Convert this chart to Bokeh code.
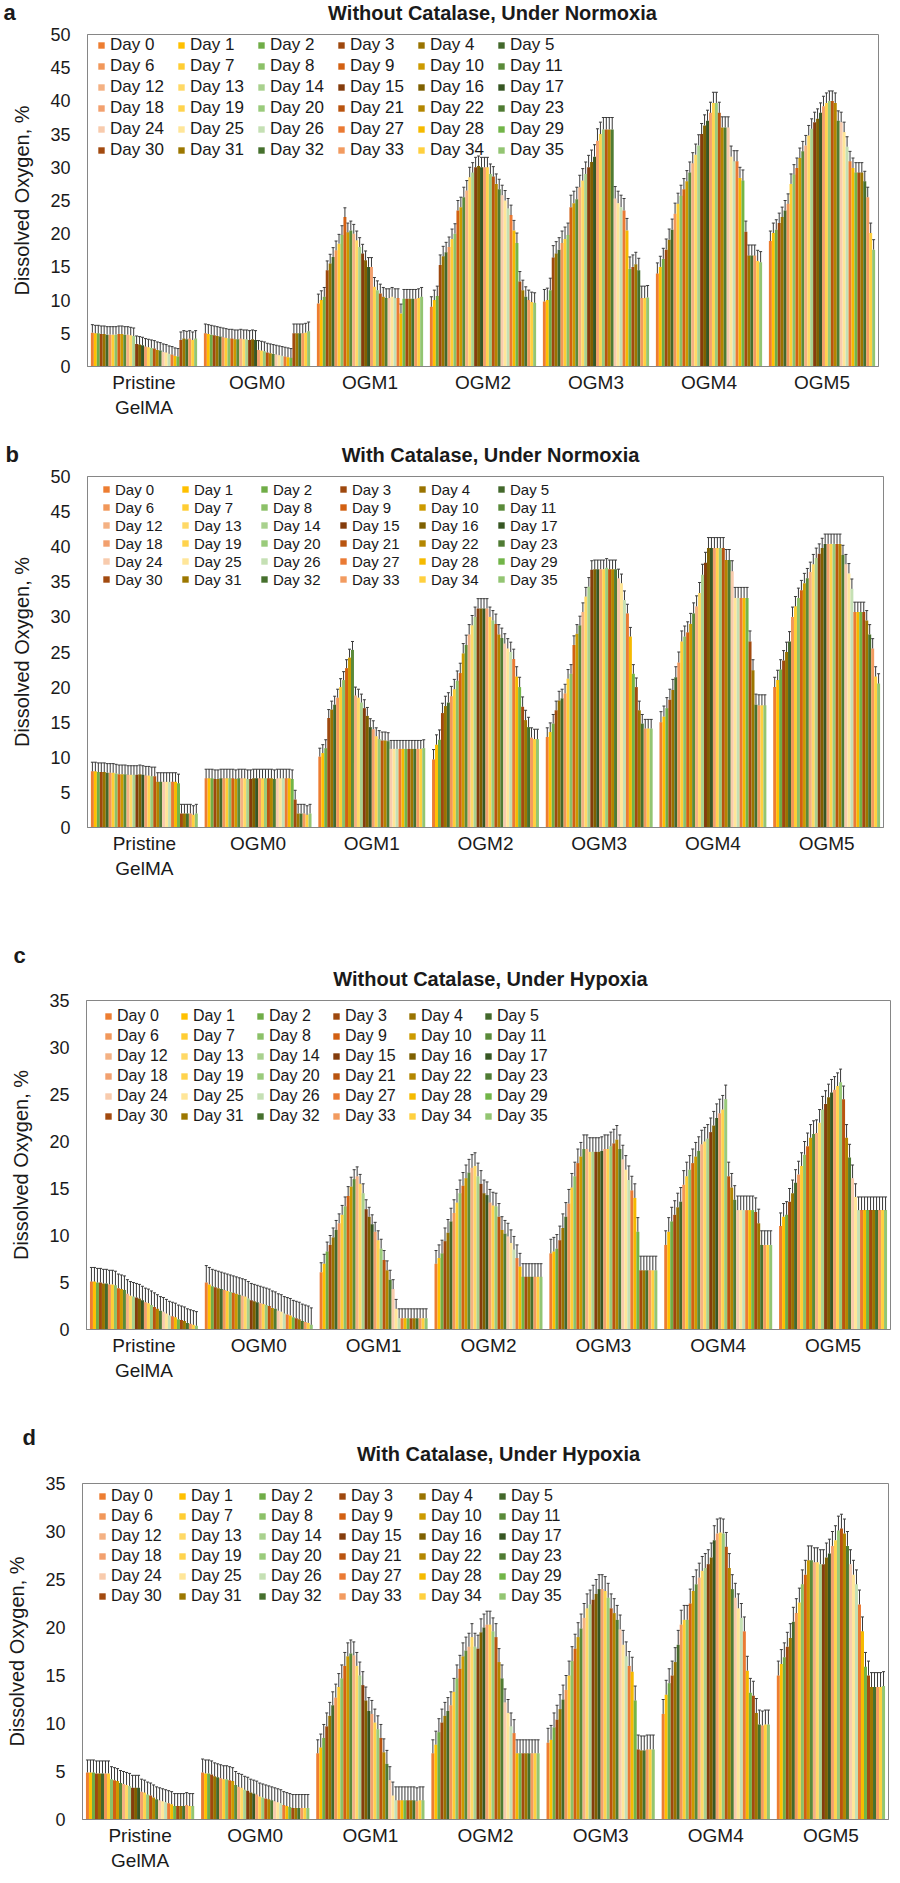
from bokeh.plotting import figure
from bokeh.models import (Range1d, FixedTicker, Legend, LegendItem,
                          Whisker, TeeHead, ColumnDataSource)
from bokeh.core.properties import value
from bokeh.layouts import column
from bokeh.embed import file_html
from bokeh.resources import INLINE

# ---------------- data ----------------
GROUPS = ["Pristine\nGelMA", "OGM0", "OGM1", "OGM2", "OGM3", "OGM4", "OGM5"]
DAYS = ["Day 0", "Day 1", "Day 2", "Day 3", "Day 4", "Day 5",
        "Day 6", "Day 7", "Day 8", "Day 9", "Day 10", "Day 11",
        "Day 12", "Day 13", "Day 14", "Day 15", "Day 16", "Day 17",
        "Day 18", "Day 19", "Day 20", "Day 21", "Day 22", "Day 23",
        "Day 24", "Day 25", "Day 26", "Day 27", "Day 28", "Day 29",
        "Day 30", "Day 31", "Day 32", "Day 33", "Day 34", "Day 35"]
PANEL_LETTERS = ["a", "b", "c", "d"]
PANEL_TITLES = ["Without Catalase, Under Normoxia", "With Catalase, Under Normoxia",
                "Without Catalase, Under Hypoxia", "With Catalase, Under Hypoxia"]
Y_LABEL = "Dissolved Oxygen, %"
Y_MAX = [50, 50, 35, 35]
Y_TICKS = [[0, 5, 10, 15, 20, 25, 30, 35, 40, 45, 50],
           [0, 5, 10, 15, 20, 25, 30, 35, 40, 45, 50],
           [0, 5, 10, 15, 20, 25, 30, 35],
           [0, 5, 10, 15, 20, 25, 30, 35]]

# (a) Without catalase, normoxia
A_PRISTINE = [5.1, 5.0, 5.0, 4.9, 4.9, 4.8, 4.8, 4.8, 4.8, 4.9, 4.9, 4.8, 4.8, 4.7, 4.6,
              3.4, 3.3, 3.2, 3.0, 2.9, 2.8, 2.7, 2.5, 2.4, 2.2, 2.1, 1.9, 1.8, 1.6, 1.5,
              4.0, 4.2, 4.1, 4.2, 4.0, 4.2]
A_OGM0 = [5.0, 4.9, 4.8, 4.7, 4.6, 4.5, 4.4, 4.3, 4.2, 4.2, 4.1, 4.1, 4.2, 4.1, 4.1, 4.0, 4.1, 4.0,
          2.5, 2.4, 2.3, 2.1, 2.0, 1.9, 1.8, 1.7, 1.6, 1.5, 1.4, 1.3,
          5.0, 5.0, 5.0, 5.0, 5.1, 5.3]
A_OGM1 = [9.5, 10.0, 10.5, 14.5, 15.5, 16.5, 17.5, 18.5, 19.8, 22.5, 20.2, 20.5, 20.0, 19.0, 18.0,
          17.0, 16.0, 15.0, 15.0, 12.0, 11.5, 11.0, 10.5, 10.3, 10.3, 10.5, 10.3, 10.3, 8.0, 10.2,
          10.2, 10.2, 10.2, 10.2, 10.3, 10.5]
A_OGM2 = [9.0, 10.0, 10.6, 15.3, 16.6, 17.2, 18.0, 19.2, 20.0, 23.5, 24.0, 25.5, 26.5, 28.5, 29.2,
          30.0, 30.2, 30.0, 30.0, 30.0, 29.0, 28.6, 27.5, 26.7, 25.8, 25.0, 23.8, 22.8, 20.5, 18.6,
          12.8, 11.5, 10.5, 10.0, 9.7, 9.6]
A_OGM3 = [9.8, 10.0, 11.5, 16.4, 17.0, 17.6, 18.6, 19.2, 19.8, 24.0, 24.6, 25.2, 27.0, 28.0, 29.0,
          30.0, 30.8, 31.6, 34.0, 35.0, 35.7, 35.7, 35.7, 35.7, 25.3, 24.6, 24.0, 23.5, 20.5, 14.7,
          15.0, 15.4, 14.5, 10.3, 10.3, 10.4]
A_OGM4 = [14.0, 15.0, 16.2, 17.6, 19.1, 20.6, 23.0, 24.5, 25.7, 26.7, 27.9, 29.2, 30.6, 31.9, 33.3,
          35.0, 36.3, 37.0, 38.2, 39.7, 39.7, 38.2, 36.0, 36.0, 36.0, 31.6, 30.9, 30.9, 28.4, 28.0,
          20.3, 16.7, 16.7, 16.7, 15.9, 15.7]
A_OGM5 = [18.9, 20.1, 20.6, 21.6, 22.5, 23.5, 24.5, 27.5, 28.9, 29.9, 31.4, 32.4, 33.3, 34.8, 35.8,
          36.8, 37.3, 38.2, 39.2, 39.7, 40.0, 40.0, 39.7, 37.0, 36.8, 35.3, 33.1, 30.9, 29.9, 29.2,
          29.2, 29.2, 27.9, 25.5, 20.1, 17.6]
A_ERR = [1.2, 1.4, 1.4, 1.5, 1.8, 1.6, 1.5]

# (b) With catalase, normoxia
B_PRISTINE = [8.0, 8.0, 7.9, 7.9, 7.9, 7.8, 7.8, 7.8, 7.7, 7.6, 7.6, 7.6, 7.5, 7.5, 7.5,
              7.5, 7.6, 7.5, 7.4, 7.4, 7.3, 7.3, 6.5, 6.5, 6.5, 6.5, 6.5, 6.5, 6.5, 6.3,
              2.0, 2.0, 2.0, 2.0, 1.8, 2.0]
B_OGM0 = [7.0, 7.0, 7.0, 6.9, 6.9, 7.0, 7.0, 7.0, 7.0, 7.0, 6.9, 7.0, 7.0, 7.0, 6.9,
          6.9, 7.0, 7.0, 7.0, 7.0, 7.0, 7.0, 7.0, 6.9, 7.0, 7.0, 7.0, 7.0, 7.0, 6.9,
          4.0, 2.0, 2.0, 2.0, 1.8, 2.0]
B_OGM1 = [10.1, 10.6, 11.3, 15.6, 16.8, 17.5, 18.5, 20.0, 21.0, 22.7, 24.2, 25.3,
          18.8, 18.5, 17.8, 17.0, 15.9, 14.3, 14.0, 13.0, 12.6, 12.4, 12.4, 12.3,
          11.2, 11.2, 11.2, 11.2, 11.2, 11.2, 11.2, 11.2, 11.2, 11.2, 11.2, 11.3]
B_OGM2 = [9.7, 11.8, 12.5, 16.3, 17.3, 17.8, 18.7, 19.7, 20.9, 22.0, 24.8, 26.0, 27.5, 28.8, 30.0,
          31.2, 31.2, 31.2, 31.2, 30.0, 29.5, 29.0, 27.5, 27.0, 26.2, 25.5, 25.0, 24.0, 21.5, 20.0,
          17.2, 15.3, 14.3, 12.8, 12.6, 12.6]
B_OGM3 = [12.9, 13.6, 14.8, 16.7, 18.1, 18.4, 19.1, 21.2, 21.9, 26.0, 27.6, 28.8, 30.7, 32.9, 34.3,
          36.7, 36.8, 36.8, 36.8, 36.8, 37.0, 36.8, 36.8, 36.8, 35.5, 34.8, 32.4, 30.5, 27.2, 21.9,
          20.0, 16.7, 14.8, 14.1, 14.1, 14.1]
B_OGM4 = [15.0, 15.8, 17.0, 18.2, 19.6, 21.4, 23.5, 26.5, 27.2, 27.8, 29.0, 30.5, 31.5, 33.4, 36.0,
          37.7, 39.8, 39.8, 39.8, 39.8, 39.8, 39.8, 38.1, 38.1, 36.5, 32.7, 32.7, 32.7, 32.7, 32.7,
          26.5, 22.4, 17.5, 17.4, 17.4, 17.4]
B_OGM5 = [20.0, 21.0, 22.5, 23.8, 25.0, 26.5, 30.0, 31.5, 32.7, 33.8, 34.8, 35.5, 36.4, 37.5, 38.4,
          39.0, 39.8, 40.4, 40.4, 40.4, 40.4, 40.4, 40.4, 38.8, 37.5, 36.2, 34.0, 30.7, 30.7, 30.7,
          30.7, 29.5, 27.5, 25.5, 21.5, 20.5]
B_ERR = [1.3, 1.3, 1.2, 1.4, 1.3, 1.5, 1.4]

# (c) Without catalase, hypoxia
C_PRISTINE = [5.1, 5.1, 5.0, 5.0, 4.9, 4.9, 4.8, 4.8, 4.7, 4.4, 4.3, 4.2, 3.8, 3.6, 3.5,
              3.4, 3.3, 3.1, 2.9, 2.8, 2.6, 2.4, 2.2, 2.0, 1.9, 1.7, 1.5, 1.4, 1.3, 1.1,
              1.0, 0.9, 0.7, 0.6, 0.5, 0.4]
C_OGM0 = [5.0, 4.8, 4.6, 4.5, 4.4, 4.3, 4.2, 4.1, 4.0, 3.9, 3.8, 3.7, 3.6, 3.5, 3.3,
          3.1, 3.0, 2.9, 2.8, 2.7, 2.6, 2.5, 2.3, 2.2, 2.0, 1.9, 1.7, 1.6, 1.5, 1.3,
          1.2, 1.1, 0.9, 0.8, 0.7, 0.5]
C_OGM1 = [6.1, 7.0, 8.3, 9.0, 9.8, 10.6, 11.3, 12.2, 13.1, 14.2, 15.2, 16.0, 16.3, 15.5, 14.5,
          12.8, 12.0, 11.2, 10.4, 9.5, 8.6, 7.4, 6.3, 5.3, 4.3, 2.2, 1.2, 1.2, 1.2, 1.2,
          1.2, 1.2, 1.2, 1.2, 1.2, 1.2]
C_OGM2 = [7.0, 7.6, 8.1, 9.4, 10.3, 11.5, 12.4, 13.5, 14.5, 15.3, 16.1, 16.7, 17.2, 17.4, 16.3,
          15.5, 14.5, 14.3, 13.5, 13.2, 13.1, 12.0, 10.6, 10.2, 9.9, 9.2, 8.5, 7.6, 6.7, 5.6,
          5.6, 5.6, 5.6, 5.6, 5.6, 5.6]
C_OGM3 = [8.1, 8.3, 8.6, 9.5, 10.8, 12.0, 13.4, 15.1, 16.3, 17.7, 18.4, 19.2, 19.2, 18.9, 18.9,
          18.9, 18.9, 19.0, 19.2, 19.2, 19.5, 19.8, 20.2, 19.2, 18.1, 17.0, 15.9, 14.8, 14.0, 10.4,
          6.3, 6.3, 6.3, 6.3, 6.3, 6.3]
C_OGM4 = [9.0, 10.4, 11.5, 12.2, 13.0, 13.6, 15.4, 16.3, 17.0, 17.7, 18.4, 19.0, 19.7, 20.0, 20.3,
          21.0, 21.7, 22.5, 23.0, 23.4, 24.5, 16.3, 15.1, 13.8, 12.7, 12.7, 12.7, 12.7, 12.7, 12.7,
          12.5, 11.3, 9.0, 9.0, 9.0, 9.0]
C_OGM5 = [11.0, 12.0, 12.2, 13.6, 14.5, 15.6, 16.5, 17.4, 18.6, 19.5, 20.4, 20.8, 20.9, 22.0, 23.4,
          24.0, 24.7, 25.2, 25.5, 25.9, 26.3, 24.5, 20.4, 18.3, 16.1, 14.1, 12.7, 12.7, 12.7, 12.7,
          12.7, 12.7, 12.7, 12.7, 12.7, 12.7]
C_ERR = [1.5, 1.8, 1.0, 1.4, 1.5, 1.5, 1.4]

# (d) With catalase, hypoxia
D_PRISTINE = [4.9, 4.9, 4.9, 4.8, 4.8, 4.8, 4.8, 4.8, 4.2, 4.1, 4.0, 3.8, 3.7, 3.6, 3.5,
              3.3, 3.3, 3.3, 2.9, 2.8, 2.6, 2.5, 2.3, 2.1, 2.0, 1.9, 1.8, 1.7, 1.6, 1.4,
              1.4, 1.4, 1.4, 1.5, 1.4, 1.4]
D_OGM0 = [4.9, 4.8, 4.8, 4.7, 4.5, 4.4, 4.3, 4.2, 4.2, 4.1, 4.0, 3.6, 3.4, 3.3, 3.1,
          3.0, 2.8, 2.7, 2.6, 2.4, 2.3, 2.2, 2.1, 2.0, 1.9, 1.8, 1.7, 1.5, 1.4, 1.3,
          1.2, 1.2, 1.2, 1.2, 1.2, 1.2]
D_OGM1 = [6.9, 7.5, 8.5, 9.7, 10.8, 11.9, 12.7, 13.8, 14.7, 16.0, 17.0, 17.3, 17.1, 16.0, 15.0,
          14.0, 12.4, 11.3, 11.0, 10.1, 9.4, 8.5, 7.0, 5.8, 4.1, 2.5, 2.0, 2.0, 2.0, 2.0,
          2.0, 2.0, 2.0, 1.9, 2.0, 2.0]
D_OGM2 = [6.9, 7.8, 9.1, 10.1, 10.8, 11.3, 11.9, 13.3, 14.7, 15.7, 17.0, 17.6, 18.0, 19.0, 18.0,
          17.8, 19.5, 20.0, 20.3, 20.3, 19.6, 19.0, 16.4, 14.7, 12.2, 11.1, 9.7, 9.0, 6.9, 6.9,
          6.9, 6.9, 6.9, 6.9, 6.9, 6.9]
D_OGM3 = [8.0, 8.3, 9.6, 10.4, 11.5, 12.5, 13.5, 15.0, 16.5, 17.8, 19.0, 19.9, 21.0, 22.0, 22.4,
          22.9, 23.5, 24.0, 24.0, 23.8, 23.1, 22.0, 21.5, 20.8, 19.8, 18.2, 17.0, 16.0, 15.4, 12.4,
          7.3, 7.2, 7.2, 7.3, 7.3, 7.3]
D_OGM4 = [11.0, 13.0, 14.2, 15.0, 16.4, 18.2, 20.3, 20.8, 20.8, 22.5, 23.8, 24.5, 25.2, 25.9, 26.2,
          26.6, 27.3, 29.1, 29.8, 29.9, 29.8, 28.4, 26.2, 24.0, 23.1, 22.0, 21.0, 19.6, 15.5, 13.2,
          12.9, 11.1, 9.9, 9.8, 9.9, 9.9]
D_OGM5 = [15.0, 16.2, 16.9, 18.0, 18.9, 20.6, 21.5, 22.6, 24.5, 25.5, 27.0, 27.0, 26.8, 26.8, 26.6,
          26.6, 27.3, 27.7, 28.5, 29.1, 30.1, 30.3, 29.8, 28.5, 26.6, 25.5, 24.5, 22.4, 19.6, 15.9,
          15.0, 13.8, 13.8, 13.8, 13.8, 13.9]
D_ERR = [1.3, 1.4, 1.4, 1.4, 1.5, 1.5, 1.5]

PANEL_VALUES = [
    [A_PRISTINE, A_OGM0, A_OGM1, A_OGM2, A_OGM3, A_OGM4, A_OGM5],
    [B_PRISTINE, B_OGM0, B_OGM1, B_OGM2, B_OGM3, B_OGM4, B_OGM5],
    [C_PRISTINE, C_OGM0, C_OGM1, C_OGM2, C_OGM3, C_OGM4, C_OGM5],
    [D_PRISTINE, D_OGM0, D_OGM1, D_OGM2, D_OGM3, D_OGM4, D_OGM5],
]
PANEL_ERRORS = [A_ERR, B_ERR, C_ERR, D_ERR]

# ---------------- styles ----------------
DAY_COLORS = ["#ED7D31", "#FFC000", "#70AD47", "#9E480E", "#997300", "#43682B",
              "#F1975A", "#FFCD33", "#8CC168", "#D26012", "#CC9A00", "#5A8A39",
              "#F4B183", "#FFD966", "#A9D18E", "#843C0C", "#7F6000", "#375623",
              "#F2A06E", "#FFD34D", "#9ACB7B", "#B9540F", "#B38600", "#4F7B33",
              "#F8CBAD", "#FFE699", "#C5E0B4", "#EA7A34", "#F5BA00", "#72B548",
              "#A24A0F", "#9C7700", "#46702D", "#F29B60", "#FFD03F", "#93C572"]
FONT = "Liberation Sans"
AXIS_GRAY = "#868686"
TEXT = "#1a1a1a"
ERR_COLOR = "#3a3a3a"
GROUP_FILL = 0.94
PAGE_W = 892

# header strip above each panel: height; letter x / center-from-bottom; title center x / center-from-bottom
HEADERS = [
    dict(h=24, lx=3, ly=12, tx=492, ty=12),
    dict(h=46, lx=5, ly=12, tx=490, ty=12),
    dict(h=90, lx=13, ly=35, tx=490, ty=12),
    dict(h=72, lx=22, ly=35, tx=498, ty=19),
]
# main plot: canvas height and borders (frame position), legend placement
MAINS = [
    dict(height=396, top=10, bottom=53, left=87, right=14,
         lg_x=10, lg_top=1, lg_lh=21, lg_sp=0, lg_lw=67, lg_fs="17px"),
    dict(height=434, top=10, bottom=73, left=87, right=9,
         lg_x=15, lg_top=4, lg_lh=18, lg_sp=0, lg_lw=66, lg_fs="15px"),
    dict(height=410, top=10, bottom=71, left=86, right=2,
         lg_x=18, lg_top=6, lg_lh=20, lg_sp=0, lg_lw=63, lg_fs="16px"),
    dict(height=403, top=11, bottom=56, left=82, right=4,
         lg_x=16, lg_top=3, lg_lh=20, lg_sp=0, lg_lw=67, lg_fs="16px"),
]


def make_header(hd, letter, title):
    hp = figure(width=PAGE_W, height=hd["h"], x_range=Range1d(0, PAGE_W), y_range=Range1d(0, hd["h"]),
                output_backend="svg", toolbar_location=None, min_border=0, frame_align=False,
                x_axis_location=None, y_axis_location=None,
                background_fill_color="white", border_fill_color="white")
    hp.outline_line_color = None
    hp.grid.visible = False
    hp.text(x=[hd["lx"]], y=[hd["ly"]], text=[letter], text_font=value(FONT),
            text_font_size="22px", text_font_style="bold", text_color=TEXT,
            text_align="left", text_baseline="middle")
    hp.text(x=[hd["tx"]], y=[hd["ty"]], text=[title], text_font=value(FONT),
            text_font_size="20px", text_font_style="bold", text_color=TEXT,
            text_align="center", text_baseline="middle")
    return hp


def make_panel(values, errs, ymax, yticks, st):
    p = figure(width=PAGE_W, height=st["height"], x_range=Range1d(0, 7), y_range=Range1d(0, ymax),
               output_backend="svg", toolbar_location=None, frame_align=False,
               min_border_left=st["left"], min_border_right=st["right"],
               min_border_top=st["top"], min_border_bottom=st["bottom"],
               background_fill_color="white", border_fill_color="white")
    p.xgrid.visible = False
    p.ygrid.visible = False
    p.outline_line_color = AXIS_GRAY
    p.outline_line_width = 1

    n_days = len(DAYS)
    n_groups = len(GROUPS)
    slot = GROUP_FILL / n_days
    renderers = []
    wx, wlo, whi = [], [], []
    for d in range(n_days):
        xs = [g + 0.5 + (d - (n_days - 1) / 2) * slot for g in range(n_groups)]
        tops = [values[g][d] for g in range(n_groups)]
        src = ColumnDataSource(dict(x=xs, top=tops))
        r = p.vbar(x="x", top="top", bottom=0, width=slot, source=src,
                   fill_color=DAY_COLORS[d], line_color=None)
        renderers.append(r)
        for g in range(n_groups):
            wx.append(xs[g])
            wlo.append(tops[g])
            whi.append(tops[g] + errs[g])
    wsrc = ColumnDataSource(dict(base=wx, lower=wlo, upper=whi))
    wk = Whisker(source=wsrc, base="base", lower="lower", upper="upper", dimension="height",
                 line_color=ERR_COLOR, line_width=1, lower_head=None,
                 upper_head=TeeHead(size=3, line_color=ERR_COLOR, line_width=1),
                 level="annotation")
    p.add_layout(wk)

    # x axis (categories)
    p.xaxis.ticker = FixedTicker(ticks=[g + 0.5 for g in range(n_groups)])
    p.xaxis.major_label_overrides = {g + 0.5: GROUPS[g] for g in range(n_groups)}
    p.xaxis.major_label_text_font = FONT
    p.xaxis.major_label_text_font_size = "19px"
    p.xaxis.major_label_text_color = TEXT
    p.xaxis.major_label_standoff = 5
    p.xaxis.major_tick_line_color = None
    p.xaxis.major_tick_out = 0
    p.xaxis.major_tick_in = 0
    p.xaxis.minor_tick_line_color = None
    p.xaxis.minor_tick_out = 0
    p.xaxis.axis_line_color = AXIS_GRAY

    # y axis
    p.yaxis.ticker = FixedTicker(ticks=yticks)
    p.yaxis.major_label_text_font = FONT
    p.yaxis.major_label_text_font_size = "18px"
    p.yaxis.major_label_text_color = TEXT
    p.yaxis.major_label_standoff = 17
    p.yaxis.major_tick_line_color = None
    p.yaxis.major_tick_out = 0
    p.yaxis.major_tick_in = 0
    p.yaxis.minor_tick_line_color = None
    p.yaxis.minor_tick_out = 0
    p.yaxis.axis_line_color = AXIS_GRAY
    p.yaxis.axis_label = Y_LABEL
    p.yaxis.axis_label_text_font = FONT
    p.yaxis.axis_label_text_font_size = "20px"
    p.yaxis.axis_label_text_font_style = "normal"
    p.yaxis.axis_label_text_color = TEXT
    p.yaxis.axis_label_standoff = 14

    # legend, 6 x 6 grid filled row by row
    frame_h = st["height"] - st["top"] - st["bottom"]
    n_rows = 6
    lg_h = n_rows * st["lg_lh"] + (n_rows - 1) * st["lg_sp"]
    items = [LegendItem(label=DAYS[d], renderers=[renderers[d]]) for d in range(n_days)]
    lg = Legend(items=items, location=(st["lg_x"], frame_h - st["lg_top"] - lg_h),
                orientation="horizontal", ncols=6,
                margin=0, padding=0, spacing=st["lg_sp"],
                glyph_width=8, glyph_height=8, label_standoff=5,
                label_width=st["lg_lw"], label_height=st["lg_lh"],
                label_text_font=FONT, label_text_font_size=st["lg_fs"], label_text_color=TEXT,
                label_text_baseline="middle",
                border_line_color=None, background_fill_alpha=0)
    p.add_layout(lg)
    return p


children = []
for i in range(4):
    children.append(make_header(HEADERS[i], PANEL_LETTERS[i], PANEL_TITLES[i]))
    children.append(make_panel(PANEL_VALUES[i], PANEL_ERRORS[i], Y_MAX[i], Y_TICKS[i], MAINS[i]))
layout = column(*children, spacing=0)

open("out.html", "w").write(file_html(layout, INLINE))
